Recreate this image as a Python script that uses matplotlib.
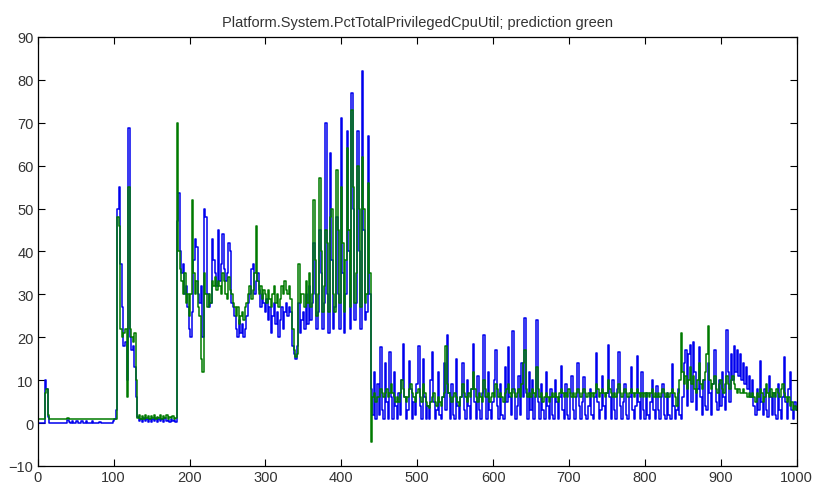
#!/usr/bin/python
# -*- coding: utf-8 -*-

import numpy as np
import matplotlib
matplotlib.use('Agg')
import matplotlib.pyplot as plt

## sample index (every 2nd sample)
idx = np.arange(0, 1001, 2)

## measured value
measured = [
    0, 0, 0, 0, 0, 10, 8, 1.5, 0, 0, 0, 0, 0, 0, 0, 0, 0, 0, 0, 0, 0.7, 0.2, 0, 0.5, 0,
    0, 0.5, 0, 0, 0.4, 0, 0, 0.5, 0, 0, 0, 0.4, 0, 0, 0, 0, 0.3, 0, 0, 0, 0, 0, 0, 0, 0,
    0.5, 1, 3, 50, 55, 37, 27, 18, 19, 10, 68.7, 20, 17, 18, 13, 6, 1.5, 0.5, 1, 0.3, 1.2, 0.4, 1, 0.3, 1,
    0.3, 1, 0.5, 1.2, 0.3, 1, 0.5, 1, 0.3, 1.1, 0.4, 0.8, 0.3, 1, 0.5, 0.8, 0.3, 47, 53.6, 40, 35, 37, 30, 32, 27,
    22, 20, 26, 38, 43, 41, 30, 28, 32, 20, 50, 48, 30, 27, 28, 43, 38, 35, 32, 45, 33, 37, 44, 36, 33,
    35, 42, 40, 28, 27, 25, 22, 20, 24, 21, 23, 20, 22, 25, 28, 30, 36, 37, 30, 33, 35, 31, 27, 30, 28,
    26, 29, 24, 27, 21, 25, 28, 23, 26, 20, 24, 27, 22, 26, 28, 25, 27, 26, 18, 16, 15, 18, 28, 21, 24,
    26, 22, 30, 23, 32, 24, 28, 42, 30, 22, 26, 45, 35, 22, 28, 70, 30, 21, 63, 38, 22, 27, 48, 30, 22,
    71, 35, 21, 30, 68, 40, 22, 77, 50, 24, 28, 68, 40, 22, 82, 45, 24, 26, 67, 30, 8, 2, 12, 1, 9,
    2, 17.7, 3, 1, 14, 5, 1, 16.5, 6, 1, 12, 4, 1, 7, 2, 10, 18.4, 6, 1, 3, 14.5, 8, 1, 5, 2,
    9, 18, 4, 1, 15, 6, 1, 4, 1, 10, 16.5, 5, 1, 3, 12, 2, 1, 6, 14, 3, 20.5, 7, 1, 9, 2,
    1, 15, 4, 1, 6, 14, 3, 1, 10, 4, 1, 8, 18.4, 5, 1, 11, 3, 1, 7, 20.5, 6, 1, 12, 3, 1,
    5, 10, 17, 4, 1, 9, 2, 1, 13, 5, 17.7, 6, 2, 21.5, 8, 1, 4, 11, 2, 14, 6, 24.5, 7, 1, 12,
    3, 10, 1, 6, 24, 5, 1, 9, 3, 1, 12, 4, 1, 8, 2, 1, 10, 5, 1, 6, 13.4, 3, 1, 9, 2,
    1, 7, 11, 3, 1, 6, 14, 4, 1, 5, 10.8, 2, 1, 4, 8, 2, 1, 6, 16.3, 5, 1, 3, 11, 4, 1,
    7, 18.2, 6, 1, 10, 3, 1, 8, 16.5, 4, 1, 5, 9, 2, 1, 6, 13, 3, 1, 4, 15.6, 5, 1, 12, 3,
    1, 7, 2, 1, 5, 10, 3, 1, 8.6, 3, 1, 6, 9, 2, 1, 7, 2, 1, 13.7, 4, 1, 3, 8, 2, 1,
    6, 14, 17, 4, 16, 18.2, 5, 18.8, 12, 3, 8, 17.8, 6, 2, 10, 4, 3, 14, 7, 2, 9, 17, 5, 3, 10,
    4, 12, 6, 3, 21.7, 12, 5, 16, 10, 18, 12, 17, 11, 16, 10, 14, 9, 13, 8, 11, 6, 10, 4, 2, 8,
    3, 14.4, 5, 2, 8, 3, 1.5, 11, 6, 2, 7, 2, 1, 9, 3, 1, 6, 15.5, 5, 1, 8, 12, 3, 1, 5,
    3]

## predicted value
prediction = [
    1, 1, 1, 1, 1, 7, 8, 2, 1, 1, 1, 1, 1, 1, 1, 1, 1, 1, 1, 1, 1.3, 1, 1, 1, 1,
    1, 1, 1, 1, 1, 1, 1, 1, 1, 1, 1, 1, 1, 1, 1, 1, 1, 1, 1, 1, 1, 1, 1, 1, 1,
    1, 1, 1, 48, 46, 22, 20, 21, 22, 6, 55, 22, 20, 19, 21, 10, 1.2, 1.8, 1, 1.6, 1, 1.8, 1.1, 1.7, 1,
    1.7, 1.1, 1.8, 1, 1.5, 1.2, 1.8, 1, 1.6, 1.2, 1.8, 1, 1.5, 1.1, 1.7, 1, 1.2, 70, 40, 36, 33, 30, 35, 28, 30,
    25, 30, 52, 35, 30, 33, 27, 25, 15, 12, 35, 30, 27, 30, 28, 33, 32, 34, 31, 33, 32, 30, 35, 33, 30,
    29, 34, 31, 30, 28, 27, 25, 27, 23, 25, 26, 24, 27, 28, 30, 32, 29, 31, 35, 46, 33, 30, 32, 29, 31,
    30, 28, 31, 29, 27, 30, 32, 28, 30, 27, 29, 32, 30, 33, 31, 30, 32, 29, 22, 17, 15.5, 16, 37, 28, 30,
    30, 27, 33, 28, 35, 27, 30, 52, 38, 25, 30, 57, 40, 26, 32, 45, 42, 26, 48, 50, 30, 26, 59, 45, 28,
    55, 42, 26, 38, 64, 45, 27, 73, 55, 28, 35, 60, 50, 27, 62, 50, 28, 30, 56, 35, -4.5, 6, 7, 5, 6,
    6, 8, 7, 6, 7, 8, 6, 7, 9, 7, 6, 5, 6, 5, 7, 10, 8, 6, 5, 6, 8, 9, 7, 6, 5,
    7, 8, 6, 5, 9, 7, 5, 4, 3.5, 5, 6, 7, 5, 4, 6, 5, 4, 6, 7, 18, 9, 7, 6, 5, 6,
    7, 6, 5, 4, 6, 9, 7, 6, 5, 7, 6, 8, 12, 8, 6, 5, 7, 6, 5, 10, 8, 6, 7, 5, 6,
    7, 6, 9, 8, 6, 7, 6, 5, 7, 8, 9, 7, 6, 8, 7, 6, 7, 8, 6, 9, 14, 17, 8, 6, 7,
    6, 8, 7, 6, 13, 8, 6, 7, 5, 6, 7, 6, 5, 6, 7, 6, 7, 6, 5, 7, 8, 7, 6, 7, 6,
    8, 7, 6, 7, 6, 7, 8, 7, 6, 7, 8, 7, 6, 7, 6, 7, 6, 7, 9, 8, 6, 7, 8, 7, 6,
    7, 10, 8, 7, 6, 7, 6, 7, 9, 7, 6, 7, 8, 7, 6, 7, 8, 7, 6, 7, 8, 7, 6, 7, 6,
    7, 6, 7, 6, 7, 8, 6, 7, 6, 7, 6, 7, 8, 7, 6, 7, 6, 7, 8, 7, 6, 4, 7, 10, 21,
    12, 9, 11, 8, 10, 13, 9, 11, 8, 7, 10, 14, 9, 8, 10, 12, 16, 22.7, 10, 8, 9, 11, 8, 7, 9,
    10, 8, 7, 9, 11, 9, 8, 10, 11, 9, 8, 7, 8, 7, 7, 8, 7, 7, 6, 7, 6, 7, 6, 5, 7,
    6, 8, 7, 5, 6, 9, 7, 6, 8, 6, 7, 6, 8, 7, 6, 8, 9, 7, 6, 5, 6, 4, 5, 3, 4,
    3]

titletxt = 'Platform.System.PctTotalPrivilegedCpuUtil; prediction green'

plt.rcParams['font.family'] = ['Liberation Sans', 'DejaVu Sans']

fig = plt.figure(figsize=(8.13, 4.89), dpi=100)
ax = fig.add_axes([0.0464, 0.045, 0.9336, 0.8775])

## measured blue, prediction green drawn on top
ax.plot(idx, measured, color='#0000ee', linewidth=1.1, drawstyle='steps-mid')
ax.plot(idx, prediction, color='#007a00', linewidth=1.1, drawstyle='steps-mid')

ax.set_xlim(0, 1000)
ax.set_ylim(-10, 90)
ax.set_xticks(np.arange(0, 1001, 100))
ax.set_yticks(np.arange(-10, 91, 10))
ax.tick_params(direction='in', top=True, right=True, length=5, width=0.8,
               labelsize=10.5, labelcolor='#333333', pad=3)
for sp in ax.spines.values():
    sp.set_linewidth(0.9)

ax.set_title(titletxt, fontsize=10.5, color='#333333', pad=8)

plt.savefig('out.png', dpi=100)
